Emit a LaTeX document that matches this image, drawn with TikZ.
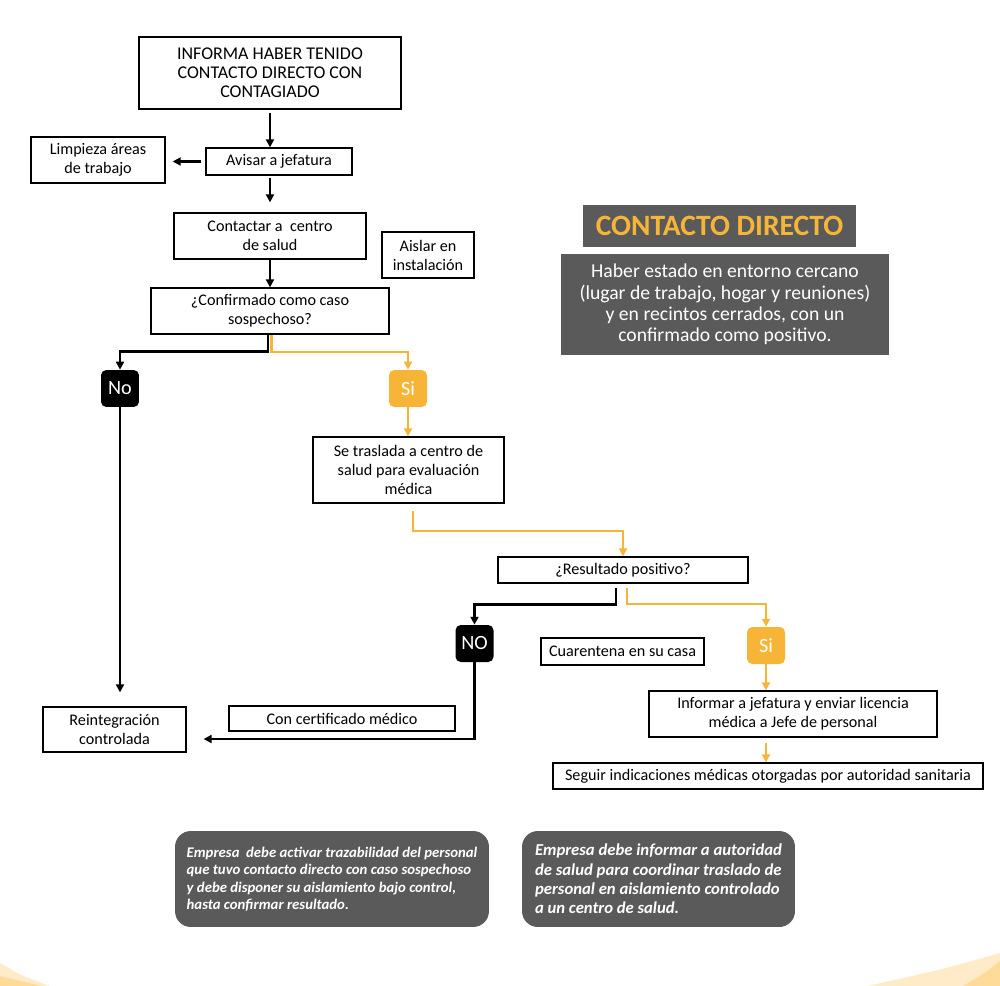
\documentclass[tikz,border=0pt]{standalone}
\usepackage{fontspec}
\setmainfont{Carlito}
\usetikzlibrary{arrows.meta}

\definecolor{naranja}{HTML}{F7B538}
\definecolor{gris}{HTML}{5A5A5A}
\definecolor{crema}{HTML}{FFEBC8}
\definecolor{cremaosc}{HTML}{FFDB9A}

\tikzset{
  caja/.style={draw, line width=0.75pt, fill=white, align=center, inner sep=0pt,
    font=\fontsize{9.2}{10.8}\selectfont},
  etiq/.style={rounded corners=3pt, text=white, minimum width=0.76cm, minimum height=0.74cm,
    inner sep=0pt, font=\fontsize{11.5}{13}\selectfont},
  flecha/.style={line width=1.4pt, -{Triangle[length=4.5pt,width=4.5pt]}},
  flechanar/.style={naranja, line width=1.3pt, -{Triangle[length=4.5pt,width=4.5pt]}},
  nota/.style={fill=gris, rounded corners=9pt, text=white, align=left, inner sep=0pt}
}

\begin{document}
\begin{tikzpicture}[x=0.02cm, y=-0.02cm]
\useasboundingbox (0,0) rectangle (1000,986);

% fondo
\fill[crema] (0,963) .. controls (20,975) .. (50,986) -- (0,986) -- cycle;
\fill[cremaosc] (0,976) -- (42,986) -- (0,986) -- cycle;
\fill[crema] (1000,953) .. controls (940,970) .. (867,986) -- (1000,986) -- cycle;
\fill[cremaosc] (1000,961) .. controls (985,973) .. (963,986) -- (1000,986) -- cycle;

% cajas
\node[caja, minimum width=5.24cm, minimum height=1.44cm, font=\fontsize{10.2}{10.9}\selectfont] (informa) at (270,73)
  {INFORMA HABER TENIDO\\CONTACTO DIRECTO CON\\CONTAGIADO};
\node[caja, minimum width=2.68cm, minimum height=0.92cm] (limpieza) at (98,160) {Limpieza áreas\\de trabajo};
\node[caja, minimum width=2.92cm, minimum height=0.54cm] (avisar) at (279,161.5) {Avisar a jefatura};
\node[caja, minimum width=3.84cm, minimum height=0.92cm] (contactar) at (270,236) {Contactar a~ centro\\de salud};
\node[caja, minimum width=1.84cm, minimum height=0.92cm] (aislar) at (428,255) {Aislar en\\instalación};
\node[caja, minimum width=4.76cm, minimum height=0.92cm] (confirm) at (270,311) {¿Confirmado como caso\\sospechoso?};
\node[etiq, fill=black] (no1) at (120,388.5) {No};
\node[etiq, fill=naranja] (si1) at (408,388.5) {Si};
\node[caja, minimum width=3.82cm, minimum height=1.32cm] (traslada) at (408.5,470)
  {Se traslada a centro de\\salud para evaluación\\médica};
\node[caja, minimum width=5cm, minimum height=0.52cm] (result) at (623,570) {¿Resultado positivo?};
\node[etiq, fill=black] (no2) at (474.5,643.5) {NO};
\node[caja, minimum width=3.26cm, minimum height=0.54cm] (cuarentena) at (622.5,651.5) {Cuarentena en su casa};
\node[etiq, fill=naranja] (si2) at (766,645.5) {Si};
\node[caja, minimum width=5.76cm, minimum height=0.92cm] (informar) at (793,714)
  {Informar a jefatura y enviar licencia\\médica a Jefe de personal};
\node[caja, minimum width=8.6cm, minimum height=0.52cm] (seguir) at (768,776)
  {Seguir indicaciones médicas otorgadas por autoridad sanitaria};
\node[caja, minimum width=4.52cm, minimum height=0.5cm] (certificado) at (342,718.5) {Con certificado médico};
\node[caja, minimum width=2.86cm, minimum height=0.9cm] (reintegra) at (114.5,729.5) {Reintegración\\controlada};

% recuadros de la derecha
\node[fill=gris, text=naranja, minimum width=5.46cm, minimum height=0.84cm, inner sep=0pt,
  font=\fontsize{16.8}{19}\bfseries] (titulo) at (719.5,226) {CONTACTO DIRECTO};
\node[fill=gris, text=white, align=center, minimum width=6.56cm, minimum height=2.02cm, inner sep=0pt,
  font=\fontsize{11.2}{12.2}\selectfont] (defin) at (725,304.5)
  {Haber estado en entorno cercano\\(lugar de trabajo, hogar y reuniones)\\y en recintos cerrados, con un\\confirmado como positivo.};

% notas
\node[nota, minimum width=6.28cm, minimum height=1.92cm, font=\fontsize{8.4}{9.9}\bfseries\itshape] (nota1) at (332,879)
  {Empresa~ debe activar trazabilidad del personal\\que tuvo contacto directo con caso sospechoso\\y debe disponer su aislamiento bajo control,\\hasta confirmar resultado.};
\node[nota, minimum width=5.46cm, minimum height=1.92cm, font=\fontsize{9.5}{11}\bfseries\itshape] (nota2) at (658.5,879)
  {Empresa debe informar a autoridad\\de salud para coordinar traslado de\\personal en aislamiento controlado\\a un centro de salud.};

% flechas
\draw[flecha, shorten <=0.06cm] (informa.south) -- (informa.south |- avisar.north);
\draw[flecha, shorten <=0.08cm, shorten >=0.14cm] (avisar.west) -- (avisar.west -| limpieza.east);
\draw[flecha, shorten <=0.04cm, shorten >=0.2cm] (contactar.north |- avisar.south) -- (contactar.north);
\draw[flecha] (contactar.south) -- (confirm.north);
\draw[flecha] ([xshift=-0.04cm]confirm.south) -- ++(0,17) -| (no1.north);
\draw[flechanar] ([xshift=0.03cm]confirm.south) -- ++(0,17) -| (si1.north);
\draw[flecha, shorten >=0.28cm] (no1.south) -- (no1.south |- reintegra.north);
\draw[flechanar] (si1.south) -- (si1.south |- traslada.north);
\draw[flechanar] ([xshift=0.09cm,yshift=-0.14cm]traslada.south) -- ++(0,20) -| (result.north);
\draw[flecha] ([xshift=-0.14cm,yshift=-0.08cm]result.south) -- ++(0,17) -| (no2.north);
\draw[flechanar] ([xshift=0.08cm,yshift=-0.08cm]result.south) -- ++(0,16) -| (si2.north);
\draw[flechanar] (si2.south) -- (si2.south |- informar.north);
\draw[flechanar, shorten <=0.1cm] (si2.south |- informar.south) -- (si2.south |- seguir.north);
\coordinate (codo) at (474.5,739);
\draw[flecha, shorten >=0.34cm] (no2.south) -- (codo) -- (codo -| reintegra.east);
\end{tikzpicture}
\end{document}
